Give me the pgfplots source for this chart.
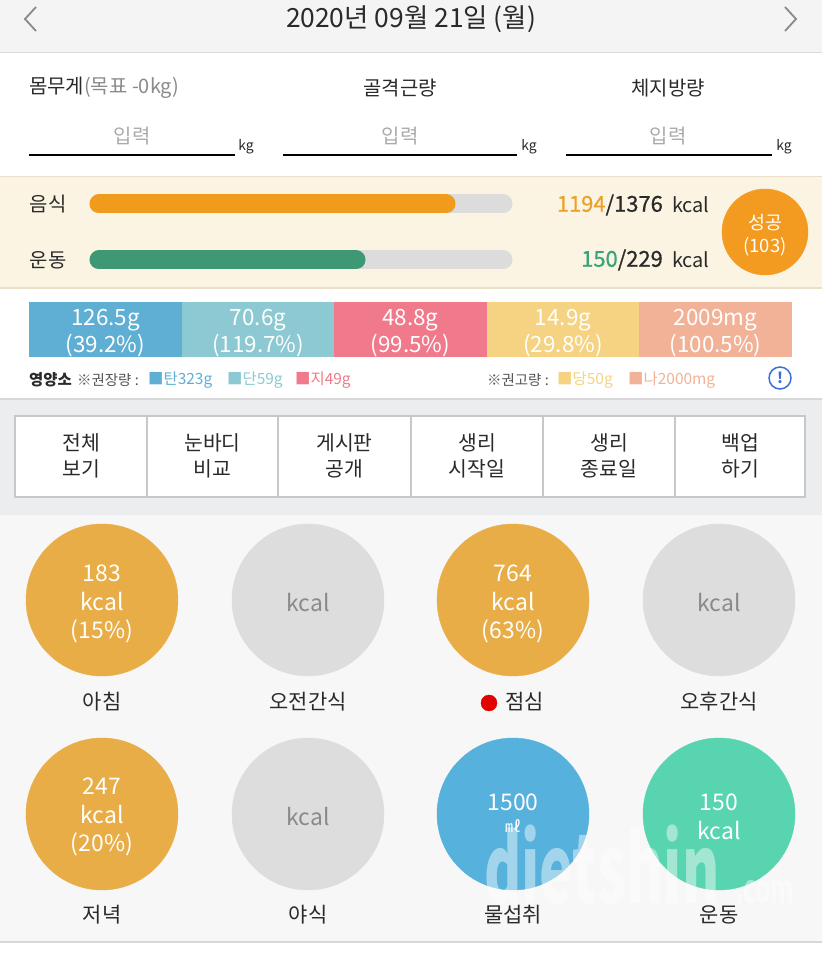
\documentclass[border=0pt]{standalone}
\usepackage{pgfplots}
\pgfplotsset{compat=1.18}
\usepackage{fontspec}
\setmainfont{Noto Sans CJK KR}
\newfontfamily\semib[FakeBold=0.7]{Noto Sans CJK KR}
\newcommand\fs[2]{\fontsize{#1}{#2}\selectfont}
\definecolor{hdrbg}{HTML}{F4F4F4}
\definecolor{linegray}{HTML}{D8D8D8}
\definecolor{beige}{HTML}{FCF4E2}
\definecolor{beigeline}{HTML}{EADFC8}
\definecolor{secbg}{HTML}{EBEDEF}
\definecolor{lowbg}{HTML}{F7F7F7}
\definecolor{darktext}{HTML}{2A2A2A}
\definecolor{midgray}{HTML}{8A8A8A}
\definecolor{lightgray}{HTML}{AAAAAA}
\definecolor{track}{HTML}{DCDCDC}
\definecolor{orangebar}{HTML}{F19B1C}
\definecolor{greenbar}{HTML}{3E9873}
\definecolor{orangetxt}{HTML}{EBA22C}
\definecolor{greentxt}{HTML}{3AA37A}
\definecolor{succ}{HTML}{F39A20}
\definecolor{nA}{HTML}{5FAFD4}
\definecolor{nB}{HTML}{8CC9D2}
\definecolor{nC}{HTML}{F07A8B}
\definecolor{nD}{HTML}{F5D383}
\definecolor{nE}{HTML}{F2B298}
\definecolor{boxline}{HTML}{C8C8C8}
\definecolor{cOr}{HTML}{E9AD48}
\definecolor{cGr}{HTML}{DDDDDD}
\definecolor{cBl}{HTML}{56B1DC}
\definecolor{cGn}{HTML}{58D5B0}
\definecolor{infoblue}{HTML}{3A6FD8}
\begin{document}
\begin{tikzpicture}
\begin{axis}[width=822bp,height=960bp,scale only axis,set layers,
  xmin=0,xmax=822,ymin=0,ymax=960,y dir=reverse,hide axis,clip=true]
% ---------- backgrounds ----------
\fill[hdrbg] (0,0) rectangle (822,52);
\fill[white] (0,52) rectangle (822,176);
\draw[linegray,line width=1.5bp] (0,52.5) -- (822,52.5);
\fill[beige] (0,176) rectangle (822,288);
\draw[beigeline,line width=1.5bp] (0,176.5) -- (822,176.5);
\draw[beigeline,line width=1.5bp] (0,288) -- (822,288);
\fill[white] (0,289) rectangle (822,398);
\fill[secbg] (0,398) rectangle (822,515);
\draw[linegray,line width=2bp] (0,399) -- (822,399);
\fill[lowbg] (0,515) rectangle (822,942);
\fill[white] (0,943) rectangle (822,960);
\draw[linegray,line width=2bp] (0,942) -- (822,942);
% ---------- header ----------
\draw[midgray,line width=1.8bp] (36,7) -- (25,19) -- (36,31);
\draw[midgray,line width=1.8bp] (785,7) -- (796,19) -- (785,31);
\node[font=\fs{26.5}{30},text=darktext] at (411,19) {2020년 09월 21일 (월)};
% ---------- weight inputs ----------
\node[anchor=west,font=\fs{20}{24},text=darktext,inner sep=0] at (29,88) {몸무게{\color{midgray}(목표 -0kg)}};
\node[font=\fs{20}{24},text=darktext] at (400,88) {골격근량};
\node[font=\fs{20}{24},text=darktext] at (668,88) {체지방량};
\node[font=\fs{20}{24},text=lightgray] at (132,136) {입력};
\node[font=\fs{20}{24},text=lightgray] at (400,136) {입력};
\node[font=\fs{20}{24},text=lightgray] at (668,136) {입력};
\draw[black,line width=1.3bp] (29,155) -- (235,155);
\draw[black,line width=1.3bp] (283,155) -- (517,155);
\draw[black,line width=1.3bp] (566,155) -- (772,155);
\node[font=\fs{14}{16},text=darktext] at (246,147) {kg};
\node[font=\fs{14}{16},text=darktext] at (529,147) {kg};
\node[font=\fs{14}{16},text=darktext] at (784,147) {kg};
% ---------- calorie bars ----------
\node[font=\fs{20}{24},text=darktext] at (48,204) {음식};
\node[font=\fs{20}{24},text=darktext] at (48,260) {운동};
\addplot[line width=19bp,line cap=round,color=track] coordinates {(99,204) (503,204)};
\addplot[line width=19bp,line cap=round,color=orangebar] coordinates {(99,204) (446,204)};
\addplot[line width=19bp,line cap=round,color=track] coordinates {(99,260) (503,260)};
\addplot[line width=19bp,line cap=round,color=greenbar] coordinates {(99,260) (356,260)};
\node[anchor=east,font=\fs{22}{26}\semib,text=darktext,inner sep=0] at (663,205) {{\color{orangetxt}1194}/1376};
\node[anchor=west,font=\fs{20}{24},text=darktext,inner sep=0] at (672,205) {kcal};
\node[anchor=east,font=\fs{22}{26}\semib,text=darktext,inner sep=0] at (663,260) {{\color{greentxt}150}/229};
\node[anchor=west,font=\fs{20}{24},text=darktext,inner sep=0] at (672,260) {kcal};
\addplot[only marks,mark=*,mark size=43bp,color=succ] coordinates {(765,232)};
% ---------- nutrient bar ----------
\addplot[fill=nA,draw=none] coordinates {(29,302) (182,302) (182,357) (29,357)} --cycle;
\addplot[fill=nB,draw=none] coordinates {(182,302) (334,302) (334,357) (182,357)} --cycle;
\addplot[fill=nC,draw=none] coordinates {(334,302) (487,302) (487,357) (334,357)} --cycle;
\addplot[fill=nD,draw=none] coordinates {(487,302) (639,302) (639,357) (487,357)} --cycle;
\addplot[fill=nE,draw=none] coordinates {(639,302) (792,302) (792,357) (639,357)} --cycle;
\node[font=\fs{22.5}{27},text=white,align=center] at (105.5,333) {126.5g\\(39.2\%)};
\node[font=\fs{22.5}{27},text=white,align=center] at (258,333) {70.6g\\(119.7\%)};
\node[font=\fs{22.5}{27},text=white,align=center] at (410.5,333) {48.8g\\(99.5\%)};
\node[font=\fs{22.5}{27},text=white,align=center] at (563,333) {14.9g\\(29.8\%)};
\node[font=\fs{22.5}{27},text=white,align=center] at (715.5,333) {2009mg\\(100.5\%)};
% legend row
\node[anchor=west,inner sep=0,font=\fs{15.5}{18}\bfseries,text=darktext] at (29,380) {영양소};
\node[anchor=west,inner sep=0,font=\fs{14.5}{18},text=darktext!80] at (77,380) {※권장량 :};
\node[anchor=west,inner sep=0,font=\fs{15.5}{18},text=nA] at (148,380) {■탄323g};
\node[anchor=west,inner sep=0,font=\fs{15.5}{18},text=nB] at (227,380) {■단59g};
\node[anchor=west,inner sep=0,font=\fs{15.5}{18},text=nC] at (295,380) {■지49g};
\node[anchor=west,inner sep=0,font=\fs{14.5}{18},text=darktext!80] at (487,380) {※권고량 :};
\node[anchor=west,inner sep=0,font=\fs{15.5}{18},text=nD] at (557,380) {■당50g};
\node[anchor=west,inner sep=0,font=\fs{15.5}{18},text=nE] at (628,380) {■나2000mg};
\draw[infoblue,line width=1.5bp] (780,378) circle[radius=11bp];
\node[font=\fs{15}{18}\bfseries,text=infoblue] at (780,378) {!};
% ---------- menu box ----------
\draw[boxline,fill=white,line width=1.3bp] (15,416) rectangle (805,497);
\draw[boxline,line width=1.2bp] (147,416) -- (147,497);
\draw[boxline,line width=1.2bp] (278,416) -- (278,497);
\draw[boxline,line width=1.2bp] (411,416) -- (411,497);
\draw[boxline,line width=1.2bp] (543,416) -- (543,497);
\draw[boxline,line width=1.2bp] (675,416) -- (675,497);
\node[font=\fs{20.5}{26},text=darktext,align=center] at (81,456) {전체\\보기};
\node[font=\fs{20.5}{26},text=darktext,align=center] at (212.5,456) {눈바디\\비교};
\node[font=\fs{20.5}{26},text=darktext,align=center] at (344.5,456) {게시판\\공개};
\node[font=\fs{20.5}{26},text=darktext,align=center] at (477,456) {생리\\시작일};
\node[font=\fs{20.5}{26},text=darktext,align=center] at (609,456) {생리\\종료일};
\node[font=\fs{20.5}{26},text=darktext,align=center] at (740,456) {백업\\하기};
% ---------- meal circles ----------
\addplot[only marks,mark=*,mark size=76bp,color=cOr] coordinates {(102,600) (513,600) (102,814)};
\addplot[only marks,mark=*,mark size=76bp,color=cGr] coordinates {(308,600) (719,600) (308,814)};
\addplot[only marks,mark=*,mark size=76bp,color=cBl] coordinates {(513,814)};
\addplot[only marks,mark=*,mark size=76bp,color=cGn] coordinates {(719,814)};
% labels
\node[font=\fs{21}{25},text=darktext] at (102,702) {아침};
\node[font=\fs{21}{25},text=darktext] at (308,702) {오전간식};
\addplot[only marks,mark=*,mark size=8bp,color=red!90!black] coordinates {(489,703)};
\node[anchor=west,inner sep=0,font=\fs{21}{25},text=darktext] at (505,702) {점심};
\node[font=\fs{21}{25},text=darktext] at (719,702) {오후간식};
\node[font=\fs{21}{25},text=darktext] at (102,915) {저녁};
\node[font=\fs{21}{25},text=darktext] at (308,915) {야식};
\node[font=\fs{21}{25},text=darktext] at (513,915) {물섭취};
\node[font=\fs{21}{25},text=darktext] at (719,915) {운동};
% ---------- texts on top of circles ----------
\begin{pgfonlayer}{axis foreground}
\node[font=\fs{18.5}{23},text=white,align=center] at (765,235) {성공\\(103)};
\node[font=\fs{23}{29},text=white,align=center] at (102,604) {183\\kcal\\(15\%)};
\node[font=\fs{23}{29},text=white,align=center] at (513,604) {764\\kcal\\(63\%)};
\node[font=\fs{23}{29},text=white,align=center] at (102,817) {247\\kcal\\(20\%)};
\node[font=\fs{23}{29},text=midgray] at (308,603) {kcal};
\node[font=\fs{23}{29},text=midgray] at (719,603) {kcal};
\node[font=\fs{23}{29},text=midgray] at (308,817) {kcal};
\node[font=\fs{23}{29},text=white] at (513,802) {1500};
\node[font=\fs{16}{20},text=white] at (513,826) {㎖};
\node[font=\fs{23}{29},text=white,align=center] at (719,817) {150\\kcal};
% watermark
\node[font=\fs{95}{95}\bfseries,text=white,opacity=0.45,xscale=0.6,anchor=base west,inner sep=0] at (484,904) {dietshin};
\node[font=\fs{40}{40}\bfseries,text=white,opacity=0.45,xscale=0.6,anchor=base west,inner sep=0] at (735,904) {.com};
\end{pgfonlayer}
\end{axis}
\end{tikzpicture}
\end{document}
